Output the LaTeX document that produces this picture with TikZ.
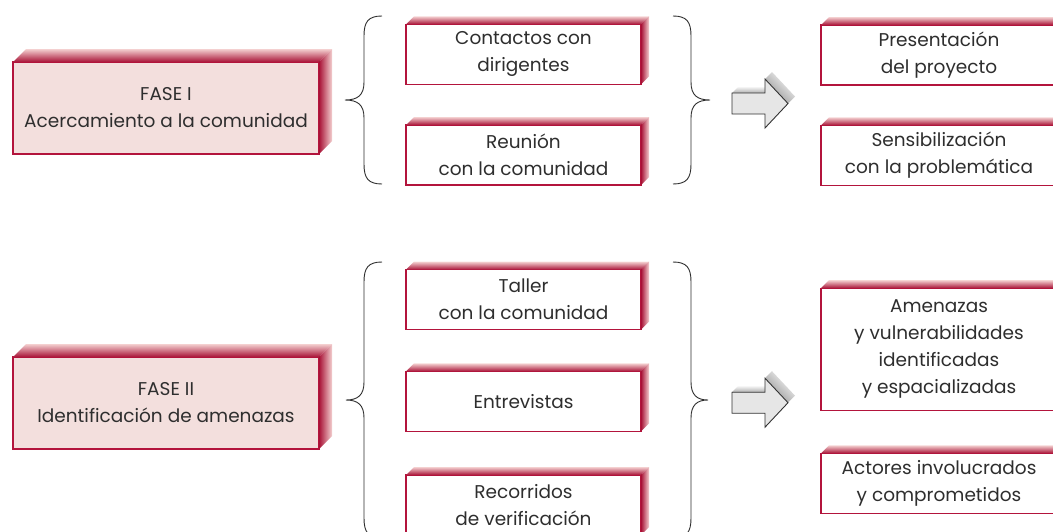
\documentclass[tikz,border=0pt]{standalone}
\usepackage{fontspec}
\setmainfont{Poppins}
\usetikzlibrary{calc}
\definecolor{crim}{HTML}{B3143C}
\definecolor{fasefill}{HTML}{F3DFDD}
\definecolor{extdark}{HTML}{A81236}
\definecolor{extlight}{HTML}{F4D0D0}
\definecolor{txt}{HTML}{2E2E2E}
\definecolor{arrfill}{HTML}{E6E6E6}
\definecolor{arrshade}{HTML}{8C8C8C}
\newcommand{\extrudebox}[2]{%
  \shade[bottom color=extdark, top color=extlight]
    (#1.north west) -- ++(#2,-#2) -- ($(#1.north east)+(#2,-#2)$) -- (#1.north east) -- cycle;
  \shade[left color=extdark, right color=extlight]
    (#1.north east) -- ++(#2,-#2) -- ($(#1.south east)+(#2,-#2)$) -- (#1.south east) -- cycle;
}
\newcommand{\fatarrow}[1]{%
  \shade[bottom color=arrshade!70, top color=white]
    (732,{#1-10.5}) -- (739,{#1-17.5}) -- (765,{#1-17.5}) -- (765,{#1-10.5}) -- cycle;
  \shade[left color=arrshade, right color=white, shading angle=135]
    (765,{#1-24.5}) -- (772,{#1-31.5}) -- (795,{#1-7}) -- (788,{#1}) -- cycle;
  \draw[arrowline] (732,{#1-10.5}) -- (765,{#1-10.5}) -- (765,{#1-24.5}) -- (788,{#1})
    -- (765,{#1+24.5}) -- (765,{#1+10.5}) -- (732,{#1+10.5}) -- cycle;
}
\tikzset{
  box/.style={draw=crim, line width=1.3pt, fill=white, text=txt, align=center,
    inner sep=0pt, outer sep=0pt, font=\fontsize{18.5}{27}\selectfont},
  fasebox/.style={box, fill=fasefill},
  midbox/.style={box, minimum width=235pt, minimum height=60pt},
  resbox/.style={box, minimum width=236pt, minimum height=60pt},
  bracel/.style={draw=txt, line width=0.9pt},
  arrowline/.style={draw=black!80, line width=0.9pt, fill=arrfill, line join=miter},
}
\begin{document}
\begin{tikzpicture}[x=1pt, y=-1pt]
\useasboundingbox (0,0) rectangle (1053,531);
\clip (0,0) rectangle (1053,531);
\fill[white] (0,0) rectangle (1053,531);

% ---------- FASE I ----------
\node[fasebox, minimum width=306pt, minimum height=92pt] (f1) at (166,108) {FASE I\\Acercamiento a la comunidad};
\extrudebox{f1}{13}

\node[midbox] (m1) at (523.5,54.3) {Contactos con\\dirigentes};
\extrudebox{m1}{8}
\node[midbox] (m2) at (523.5,155) {Reunión\\con la comunidad};
\extrudebox{m2}{8}

\draw[bracel] (382,16) .. controls (368,16) and (364,22) .. (364,36) -- (364,82)
  .. controls (364,95) and (358,100) .. (345,100)
  .. controls (358,100) and (364,105) .. (364,118) -- (364,164)
  .. controls (364,178) and (368,184) .. (382,184);
\draw[bracel] (673,16) .. controls (687,16) and (691,22) .. (691,36) -- (691,82)
  .. controls (691,95) and (697,100) .. (710,100)
  .. controls (697,100) and (691,105) .. (691,118) -- (691,164)
  .. controls (691,178) and (687,184) .. (673,184);

\fatarrow{103.5}

\node[resbox] (r1) at (939,55) {Presentación\\del proyecto};
\extrudebox{r1}{8}
\node[resbox] (r2) at (939,155.3) {Sensibilización\\con la problemática};
\extrudebox{r2}{8}

% ---------- FASE II ----------
\node[fasebox, minimum width=306pt, minimum height=92pt] (f2) at (166,403) {FASE II\\Identificación de amenazas};
\extrudebox{f2}{13}

\node[midbox] (m3) at (523.5,299.7) {Taller\\con la comunidad};
\extrudebox{m3}{8}
\node[midbox] (m4) at (523.5,401.4) {Entrevistas};
\extrudebox{m4}{8}
\node[midbox] (m5) at (523.5,505) {Recorridos\\de verificación};
\extrudebox{m5}{8}

\draw[bracel] (382,262) .. controls (368,262) and (364,268) .. (364,282) -- (364,382)
  .. controls (364,395) and (358,400) .. (346,400)
  .. controls (358,400) and (364,405) .. (364,418) -- (364,518)
  .. controls (364,532) and (368,538) .. (382,538);
\draw[bracel] (673,262) .. controls (687,262) and (691,268) .. (691,282) -- (691,382)
  .. controls (691,395) and (697,400) .. (708,400)
  .. controls (697,400) and (691,405) .. (691,418) -- (691,518)
  .. controls (691,532) and (687,538) .. (673,538);

\fatarrow{402.7}

\node[resbox, minimum height=122pt] (r3) at (939,349.2) {Amenazas\\y vulnerabilidades\\identificadas\\y espacializadas};
\extrudebox{r3}{8}
\node[resbox] (r4) at (939,483.3) {Actores involucrados\\y comprometidos};
\extrudebox{r4}{8}
\end{tikzpicture}
\end{document}
